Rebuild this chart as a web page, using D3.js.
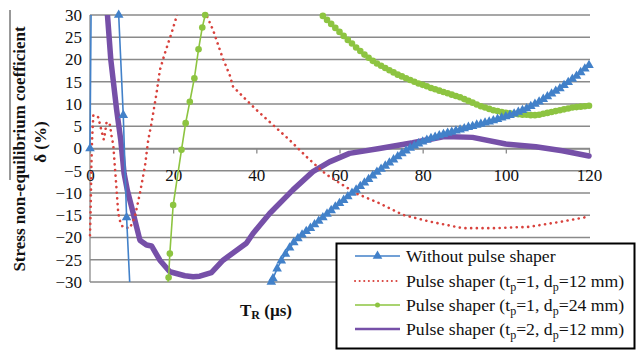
<!DOCTYPE html>
<html>
<head>
<meta charset="utf-8">
<script src="https://cdn.jsdelivr.net/npm/d3@7"></script>
<style>
  html, body { margin: 0; padding: 0; background: #fff; }
  svg { display: block; }
  text { font-family: "Liberation Serif", "Times New Roman", serif; }
</style>
</head>
<body>
<svg id="chart" width="637" height="352"></svg>
<script>
// ---------------- DATA ----------------
const xTicks = [0, 20, 40, 60, 80, 100, 120];
const yTicks = [-30, -25, -20, -15, -10, -5, 0, 5, 10, 15, 20, 25, 30];

// Without pulse shaper: [T_R (µs), δ (%)]
const withoutEarly = [[0, 0], [0.3, 35], [6.6, 35], [6.9, 30], [8, 7.5], [8.8, -15.5], [9.8, -35]];
const withoutLateT = [43.6, 44, 45, 46, 47, 48, 49, 50, 51, 52, 53, 54, 55, 56, 57, 58, 59, 60, 61, 62, 63, 64, 65, 66, 67, 68, 69, 70, 71, 72, 73, 74, 75, 76, 77, 78, 79, 80, 81, 82, 83, 84, 85, 86, 87, 88, 89, 90, 91, 92, 93, 94, 95, 96, 97, 98, 99, 100, 101, 102, 103, 104, 105, 106, 107, 108, 109, 110, 111, 112, 113, 114, 115, 116, 117, 118, 119, 120];
const withoutLateD = [-30, -29.2, -27.0, -25.2, -23.7, -22.3, -21.1, -20.2, -19.4, -18.6, -17.9, -17.1, -16.3, -15.5, -14.7, -13.9, -13.1, -12.3, -11.6, -10.8, -10.0, -9.3, -8.5, -7.7, -6.9, -6.1, -5.3, -4.6, -3.9, -3.2, -2.5, -1.8, -1.1, -0.5, 0.1, 0.6, 1.1, 1.5, 1.9, 2.3, 2.6, 2.9, 3.2, 3.5, 3.7, 4.0, 4.2, 4.5, 4.8, 5.0, 5.3, 5.5, 5.8, 6.0, 6.3, 6.6, 6.9, 7.2, 7.5, 7.8, 8.2, 8.6, 9.0, 9.5, 10.0, 10.5, 11.1, 11.7, 12.3, 12.9, 13.5, 14.2, 14.9, 15.6, 16.3, 17.1, 17.9, 18.7];

// Pulse shaper (tp=1, dp=12 mm)
const shaper1x12 = [[0, -19.5], [0.2, -12], [0.3, -5], [0.5, 2], [0.8, 7.5], [1.5, 7.3], [2, 7], [2.5, 5], [2.8, 3.8], [3.3, 2], [3.6, 3.4], [4, 6], [4.8, 5.3], [5.2, 2.7], [5.6, 0.8], [5.8, -1.8], [6.4, -9.3], [6.8, -14.6], [7.4, -17], [8, -17.7], [9.6, -17.9], [10.8, -15.3], [12, -10.1], [13.2, -4.1], [14, 1.9], [14.8, 5.7], [16, 12.4], [16.8, 17.6], [18, 21.4], [19.6, 25.9], [20.8, 29.6], [21.3, 32], [27.6, 32], [28, 30], [29.6, 26.6], [31.8, 20.6], [33.6, 16.5], [34.4, 13.9], [37.6, 10.9], [40, 8.7], [44, 5.3], [48, 1.9], [52, -1.8], [56, -5.2], [57.6, -6.3], [64, -10.1], [69.6, -12.3], [75.2, -14.9], [81.6, -16.4], [89.6, -17.9], [97.6, -17.9], [105.6, -17.6], [113.6, -16.4], [120, -15.3]];

// Pulse shaper (tp=1, dp=24 mm)
const shaper1x24Early = [[18.6, -31], [18.9, -29], [19.2, -23.6], [20, -12.7], [22, -0.3], [23, 5.7], [24, 10.5], [25.1, 15.8], [26.1, 22.3], [27, 27.2], [27.7, 30], [27.9, 31]];
const shaper1x24LateT = [55.3, 56, 57, 58, 59, 60, 61, 62, 63, 64, 65, 66, 67, 68, 69, 70, 71, 72, 73, 74, 75, 76, 77, 78, 79, 80, 81, 82, 83, 84, 85, 86, 87, 88, 89, 90, 91, 92, 93, 94, 95, 96, 97, 98, 99, 100, 101, 102, 103, 104, 105, 106, 107, 108, 109, 110, 111, 112, 113, 114, 115, 116, 117, 118, 119, 120];
const shaper1x24LateD = [31, 29.8, 28.9, 28.0, 27.1, 26.2, 25.3, 24.4, 23.6, 22.7, 21.9, 21.1, 20.4, 19.7, 19.1, 18.6, 18.1, 17.6, 17.1, 16.6, 16.2, 15.8, 15.4, 15.0, 14.6, 14.3, 14.0, 13.6, 13.3, 13.0, 12.7, 12.4, 12.1, 11.8, 11.5, 11.1, 10.7, 10.3, 9.9, 9.5, 9.2, 8.9, 8.6, 8.4, 8.2, 8.0, 7.9, 7.8, 7.7, 7.6, 7.6, 7.5, 7.5, 7.6, 7.8, 8.0, 8.2, 8.4, 8.6, 8.8, 9.0, 9.2, 9.3, 9.4, 9.5, 9.6];

// Pulse shaper (tp=2, dp=12 mm)
const shaper2x12 = [[3.8, 35], [4.2, 30], [5.0, 20], [6.4, 8.7], [7.4, 1.9], [8.2, -5.6], [9, -9.5], [10, -13.1], [11.2, -17.6], [12, -20.6], [13.6, -21.7], [14.8, -21.9], [16.8, -25.1], [19.2, -27.7], [22.8, -28.6], [24.8, -28.8], [26.4, -28.7], [29.2, -27.9], [32, -25.1], [37.6, -21.3], [39.2, -19.1], [43.2, -14.6], [48.8, -9.3], [53.6, -5.2], [57.6, -3.0], [62.4, -1.1], [69.6, 0], [77.6, 1.3], [85.2, 2.7], [92, 2.5], [100, 1.0], [107.2, 0.4], [113.6, -0.5], [120, -1.7]];

const legendLabels = [
  ["Without pulse shaper"],
  ["Pulse shaper (t", "p", "=1,  d", "p", "=12 mm)"],
  ["Pulse shaper (t", "p", "=1,  d", "p", "=24 mm)"],
  ["Pulse shaper (t", "p", "=2,  d", "p", "=12 mm)"]
];

// ---------------- CHART ----------------
const svg = d3.select("#chart");
const x = d3.scaleLinear().domain([0, 120]).range([90, 589]);
const y = d3.scaleLinear().domain([-30, 30]).range([282, 15]);

const C = {
  grid: "#8a8a8a",
  blue: "#4281c9",
  red: "#d8423d",
  green: "#8dc441",
  purple: "#7650a8"
};
const FS = 17;
const LFS = 17.7;

svg.append("rect").attr("width", 637).attr("height", 352).attr("fill", "#fff");

svg.append("defs").append("clipPath").attr("id", "plotclip")
  .append("rect").attr("x", x(0) - 3).attr("y", y(30)).attr("width", x(120) - x(0) + 6).attr("height", y(-30) - y(30));

// gridlines
svg.append("g").selectAll("line").data(yTicks).join("line")
  .attr("x1", x(0)).attr("x2", x(120) + 1)
  .attr("y1", d => y(d)).attr("y2", d => y(d))
  .attr("stroke", C.grid).attr("stroke-width", 1.3);

// y axis line
svg.append("line").attr("x1", x(0)).attr("x2", x(0)).attr("y1", y(30)).attr("y2", y(-30))
  .attr("stroke", C.grid).attr("stroke-width", 1.3);

// x axis on zero with downward ticks
const xAxis = d3.axisBottom(x).tickValues(xTicks).tickSize(5).tickSizeOuter(0).tickFormat(d3.format("d"));
const gx = svg.append("g").attr("transform", `translate(0,${y(0)})`).call(xAxis);
gx.select(".domain").attr("stroke", C.grid).attr("stroke-width", 1.3);
gx.selectAll(".tick line").attr("stroke", C.grid).attr("stroke-width", 1.3);
gx.selectAll(".tick text").attr("font-size", FS)
  .attr("fill", "#111").attr("y", 20).attr("dy", "0.71em");

// y tick labels
const yAxis = d3.axisLeft(y).tickValues(yTicks).tickSize(0).tickPadding(8);
const gy = svg.append("g").attr("transform", `translate(${x(0)},0)`).call(yAxis);
gy.select(".domain").remove();
gy.selectAll(".tick text").attr("font-size", FS).attr("fill", "#111");

// axis titles
svg.append("text").attr("transform", "translate(25,149) rotate(-90)")
  .attr("text-anchor", "middle").attr("font-weight", "bold").attr("font-size", 17).attr("fill", "#111")
  .text("Stress non-equilibrium  coefficient");
svg.append("text").attr("transform", "translate(46,142) rotate(-90)")
  .attr("text-anchor", "middle").attr("font-weight", "bold").attr("font-size", 17).attr("fill", "#111")
  .text("δ (%)");
svg.append("line").attr("x1", 10).attr("x2", 10).attr("y1", 10).attr("y2", 180)
  .attr("stroke", "#333").attr("stroke-width", 1);

const xt = svg.append("text").attr("x", 240).attr("y", 316).attr("font-weight", "bold").attr("font-size", 17).attr("fill", "#111");
xt.append("tspan").text("T");
xt.append("tspan").attr("font-size", 12).attr("dy", 3).text("R");
xt.append("tspan").attr("dy", -3).text(" (µs)");

// series
const line = d3.line().x(d => x(d[0])).y(d => y(d[1]));
const plot = svg.append("g").attr("clip-path", "url(#plotclip)");
const inRange = d => d[1] >= -30.5 && d[1] <= 30.5;

const withoutLate = withoutLateT.map((t, i) => [t, withoutLateD[i]]);
const shaper1x24Late = shaper1x24LateT.map((t, i) => [t, shaper1x24LateD[i]]);

// purple
plot.append("path").datum(shaper2x12).attr("d", line).attr("fill", "none")
  .attr("stroke", C.purple).attr("stroke-width", 5.5).attr("stroke-linejoin", "round").attr("stroke-linecap", "round");

// red dotted
plot.append("path").datum(shaper1x12).attr("d", line).attr("fill", "none")
  .attr("stroke", C.red).attr("stroke-width", 2.6).attr("stroke-dasharray", "0.1 5.6").attr("stroke-linecap", "round");

// green
[shaper1x24Early, shaper1x24Late].forEach(seg => {
  plot.append("path").datum(seg).attr("d", line).attr("fill", "none")
    .attr("stroke", C.green).attr("stroke-width", 1.6);
  svg.append("g").selectAll("circle").data(seg.filter(inRange)).join("circle")
    .attr("cx", d => x(d[0])).attr("cy", d => y(d[1])).attr("r", 3.3).attr("fill", C.green);
});

// blue
const tri = d3.symbol(d3.symbolTriangle, 40);
[withoutEarly, withoutLate].forEach(seg => {
  plot.append("path").datum(seg).attr("d", line).attr("fill", "none")
    .attr("stroke", C.blue).attr("stroke-width", 1.6);
  svg.append("g").selectAll("path").data(seg.filter(inRange)).join("path")
    .attr("d", tri).attr("transform", d => `translate(${x(d[0])},${y(d[1])})`).attr("fill", C.blue);
});

// legend
const lg = svg.append("g");
lg.append("rect").attr("x", 336.5).attr("y", 243.5).attr("width", 298).attr("height", 105)
  .attr("fill", "#fff").attr("stroke", "#000").attr("stroke-width", 2);
const rowsY = [256, 281, 305, 329];
const lx1 = 355, lx2 = 400;
lg.append("line").attr("x1", lx1).attr("x2", lx2).attr("y1", rowsY[0]).attr("y2", rowsY[0]).attr("stroke", C.blue).attr("stroke-width", 1.6);
lg.append("path").attr("d", tri).attr("transform", `translate(${(lx1 + lx2) / 2},${rowsY[0]})`).attr("fill", C.blue);
lg.append("line").attr("x1", lx1).attr("x2", lx2).attr("y1", rowsY[1]).attr("y2", rowsY[1]).attr("stroke", C.red)
  .attr("stroke-width", 2).attr("stroke-dasharray", "0.1 4.5").attr("stroke-linecap", "round");
lg.append("line").attr("x1", lx1).attr("x2", lx2).attr("y1", rowsY[2]).attr("y2", rowsY[2]).attr("stroke", C.green).attr("stroke-width", 1.6);
lg.append("circle").attr("cx", (lx1 + lx2) / 2).attr("cy", rowsY[2]).attr("r", 2.5).attr("fill", C.green);
lg.append("line").attr("x1", lx1).attr("x2", lx2).attr("y1", rowsY[3]).attr("y2", rowsY[3]).attr("stroke", C.purple).attr("stroke-width", 2.5);

legendLabels.forEach((parts, i) => {
  const t = lg.append("text").attr("x", 406).attr("y", rowsY[i] + 5.5).attr("font-size", LFS).attr("fill", "#111");
  parts.forEach((p, j) => {
    const ts = t.append("tspan").text(p);
    if (j % 2 === 1) ts.attr("font-size", 12).attr("dy", 4);
    else if (j > 0) ts.attr("dy", -4);
  });
});
</script>
</body>
</html>
